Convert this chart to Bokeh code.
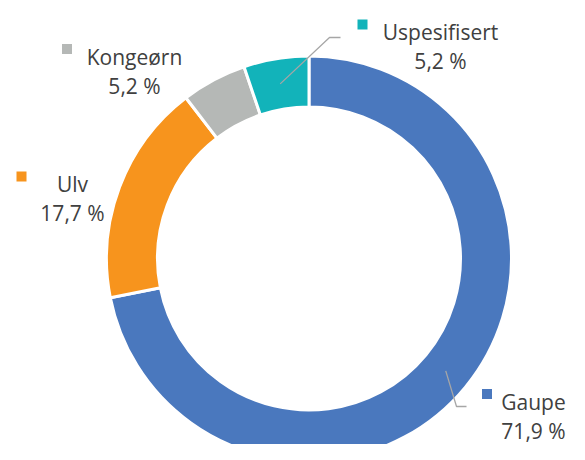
import math
from bokeh.plotting import figure
from bokeh.models import Range1d, ColumnDataSource
from bokeh.core.properties import value
from bokeh.embed import file_html
from bokeh.resources import INLINE

# ---- data ----
categories = ["Gaupe", "Ulv", "Kongeørn", "Uspesifisert"]
shares = [71.9, 17.7, 5.2, 5.2]
colors = ["#4A78BE", "#F7941D", "#B5B8B6", "#12B3BA"]

# ---- layout (screen pixels; y measured downward) ----
W, H = 569, 444
CX, CY = 308.5, 258.0
R_OUT, R_IN = 202.5, 151.5
label_x = [533, 72, 134, 440]          # centre of the two-line label
label_y = [401, 183.5, 56, 31.5]       # baseline of first line
marker_x = [486.5, 21, 66.5, 362]
line_gap = 29
elbow = {0: (456, 406, 466), 3: (329, 37, 340)}   # (x, y, end_x) of leader lines

FONT = value("Open Sans")
TEXT_COLOR = "#404040"

p = figure(width=W, height=H, output_backend="svg", toolbar_location=None,
           x_range=Range1d(0, W), y_range=Range1d(-H, 0),
           x_axis_type=None, y_axis_type=None,
           min_border=0, min_border_left=0, min_border_right=0,
           min_border_top=0, min_border_bottom=0)
p.grid.visible = False
p.outline_line_color = None
p.background_fill_color = "white"
p.border_fill_color = "white"

total = sum(shares)
starts, ends, mids = [], [], []
c = 0.0
for s in shares:
    c0 = c / total
    c += s
    c1 = c / total
    starts.append(math.pi / 2 - 2 * math.pi * c0)
    ends.append(math.pi / 2 - 2 * math.pi * c1)
    mids.append(math.pi / 2 - 2 * math.pi * (c0 + c1) / 2)

src = ColumnDataSource(dict(start=starts, end=ends, color=colors))
p.annular_wedge(x=CX, y=-CY, inner_radius=R_IN, outer_radius=R_OUT,
                start_angle="start", end_angle="end", direction="clock",
                fill_color="color", line_color="white", line_width=3, source=src)

# leader lines
r_mid = (R_IN + R_OUT) / 2
for i, (ex, ey, endx) in elbow.items():
    sx = CX + r_mid * math.cos(mids[i])
    sy = -CY + r_mid * math.sin(mids[i])
    p.line([sx, ex, endx], [sy, -ey, -ey], line_color="#A6A6A6", line_width=1.3)

# labels
pct = [f"{v:.1f}".replace(".", ",") + " %" for v in shares]
p.scatter(x=marker_x, y=[-(y - 7.5) for y in label_y], marker="square", size=10,
          fill_color=colors, line_color=None)
p.text(x=label_x, y=[-y for y in label_y], text=categories, text_font=FONT,
       text_font_size="21px", text_color=TEXT_COLOR, text_align="center",
       text_baseline="alphabetic")
p.text(x=label_x, y=[-(y + line_gap) for y in label_y], text=pct, text_font=FONT,
       text_font_size="21px", text_color=TEXT_COLOR, text_align="center",
       text_baseline="alphabetic")

open("out.html", "w").write(file_html(p, INLINE))
